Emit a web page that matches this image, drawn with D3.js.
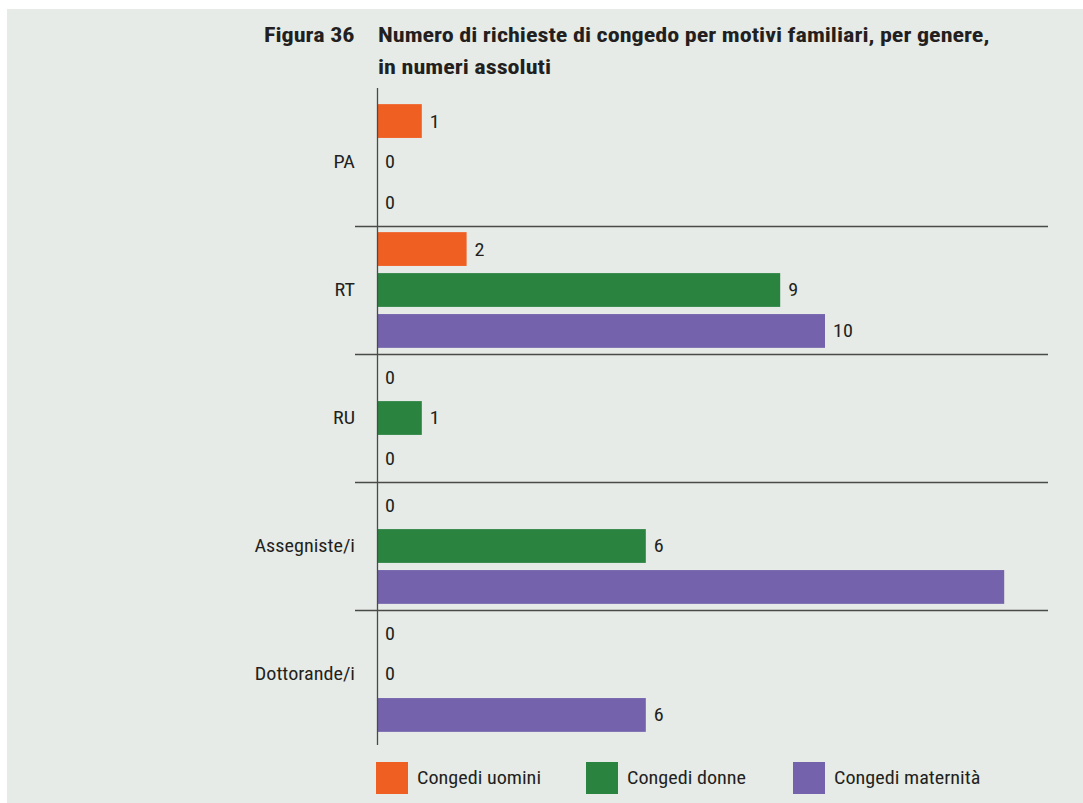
<!DOCTYPE html>
<html>
<head>
<meta charset="utf-8">
<script src="https://cdn.jsdelivr.net/npm/d3@7"></script>
<style>
  html, body { margin: 0; padding: 0; background: #fff; }
  svg { display: block; }
</style>
</head>
<body>
<div id="chart"></div>
<script>
// data
const categories = ['PA', 'RT', 'RU', 'Assegniste/i', 'Dottorande/i'];
const seriesNames = ['Congedi uomini', 'Congedi donne', 'Congedi maternità'];
const uomini = [1, 2, 0, 0, 0];
const donne = [0, 9, 1, 6, 0];
const maternita = [0, 10, 0, 14, 6];
// the original omits the label on the longest bar
const hideLabel = [[], [], [], [], []];
hideLabel[3][2] = true;
const colors = ['#f05f22', '#2a843f', '#7462ac'];

const width = 1083;
const height = 803;
const font = '"Roboto Condensed", "Liberation Sans Narrow", "DejaVu Sans Condensed", "Liberation Sans", sans-serif';
const stretch = 1.12; // reference face is wider than the condensed one here
const titleStretch = 1.15;

const svg = d3.select('#chart')
  .append('svg')
  .attr('width', width)
  .attr('height', height)
  .style('font-family', font);

// panel background
svg.append('rect')
  .attr('x', 7).attr('y', 9)
  .attr('width', width - 7).attr('height', height - 9)
  .attr('fill', '#e6ebe7');

// widened text placed at (x, y)
function place(sel, fx, fy, k) {
  sel.attr('transform', (d, i) => `translate(${fx(d, i)},${fy(d, i)}) scale(${k},1)`);
}

// title
const title = svg.append('g')
  .attr('fill', '#231f20')
  .style('font-weight', 'bold')
  .style('font-size', '21px');
title.selectAll('text')
  .data([
    ['Figura 36', 264, 42],
    ['Numero di richieste di congedo per motivi familiari, per genere,', 378, 42],
    ['in numeri assoluti', 378, 74],
  ])
  .join('text')
  .text((d) => d[0])
  .call(place, (d) => d[1], (d) => d[2], titleStretch);

const values = [uomini, donne, maternita];
const rows = categories.map((c, i) => ({
  cat: c,
  bars: values.map((s, j) => ({ series: j, value: s[i], hide: !!hideLabel[i][j] })),
}));

const x = d3.scaleLinear().domain([0, 10]).range([377, 825]);
const y0 = d3.scaleBand().domain(categories).range([98, 738]);
const y1 = d3.scaleBand().domain(d3.range(3)).range([0, y0.bandwidth()])
  .paddingInner(0.175).paddingOuter(0.15);

const groups = svg.append('g')
  .selectAll('g')
  .data(rows)
  .join('g')
  .attr('transform', (d) => `translate(0,${y0(d.cat)})`);

groups.selectAll('rect')
  .data((d) => d.bars)
  .join('rect')
  .attr('x', x(0))
  .attr('y', (d) => y1(d.series))
  .attr('height', y1.bandwidth())
  .attr('width', (d) => x(d.value) - x(0))
  .attr('fill', (d) => colors[d.series]);

groups.selectAll('text.val')
  .data((d) => d.bars.filter((b) => !b.hide))
  .join('text')
  .attr('class', 'val')
  .attr('dy', '0.36em')
  .attr('fill', '#231f20')
  .style('font-size', '18px')
  .text((d) => d.value)
  .call(place, (d) => x(d.value) + 8, (d) => y1(d.series) + y1.bandwidth() / 2, stretch);

// category labels
svg.append('g')
  .selectAll('text')
  .data(categories)
  .join('text')
  .attr('dy', '0.36em')
  .attr('text-anchor', 'end')
  .attr('fill', '#231f20')
  .style('font-size', '18px')
  .text((d) => d)
  .call(place, () => 355, (d) => y0(d) + y0.bandwidth() / 2, stretch);

// separators between groups
svg.append('g')
  .selectAll('line')
  .data(categories.slice(1))
  .join('line')
  .attr('x1', 355).attr('x2', 1048)
  .attr('y1', (d) => Math.round(y0(d)) + 0.5)
  .attr('y2', (d) => Math.round(y0(d)) + 0.5)
  .attr('stroke', '#4a4a4a')
  .attr('stroke-width', 1.3);

// vertical axis
svg.append('line')
  .attr('x1', x(0) + 0.5).attr('x2', x(0) + 0.5)
  .attr('y1', 88).attr('y2', 745)
  .attr('stroke', '#4a4a4a')
  .attr('stroke-width', 1.3);

// legend
const legendX = [376, 586, 793];
const legend = svg.append('g')
  .selectAll('g')
  .data(seriesNames)
  .join('g')
  .attr('transform', (d, i) => `translate(${legendX[i]},762)`);
legend.append('rect')
  .attr('width', 32).attr('height', 32)
  .attr('fill', (d, i) => colors[i]);
legend.append('text')
  .attr('dy', '0.36em')
  .attr('fill', '#231f20')
  .style('font-size', '18px')
  .text((d) => d)
  .call(place, () => 41, () => 16, stretch);
</script>
</body>
</html>
